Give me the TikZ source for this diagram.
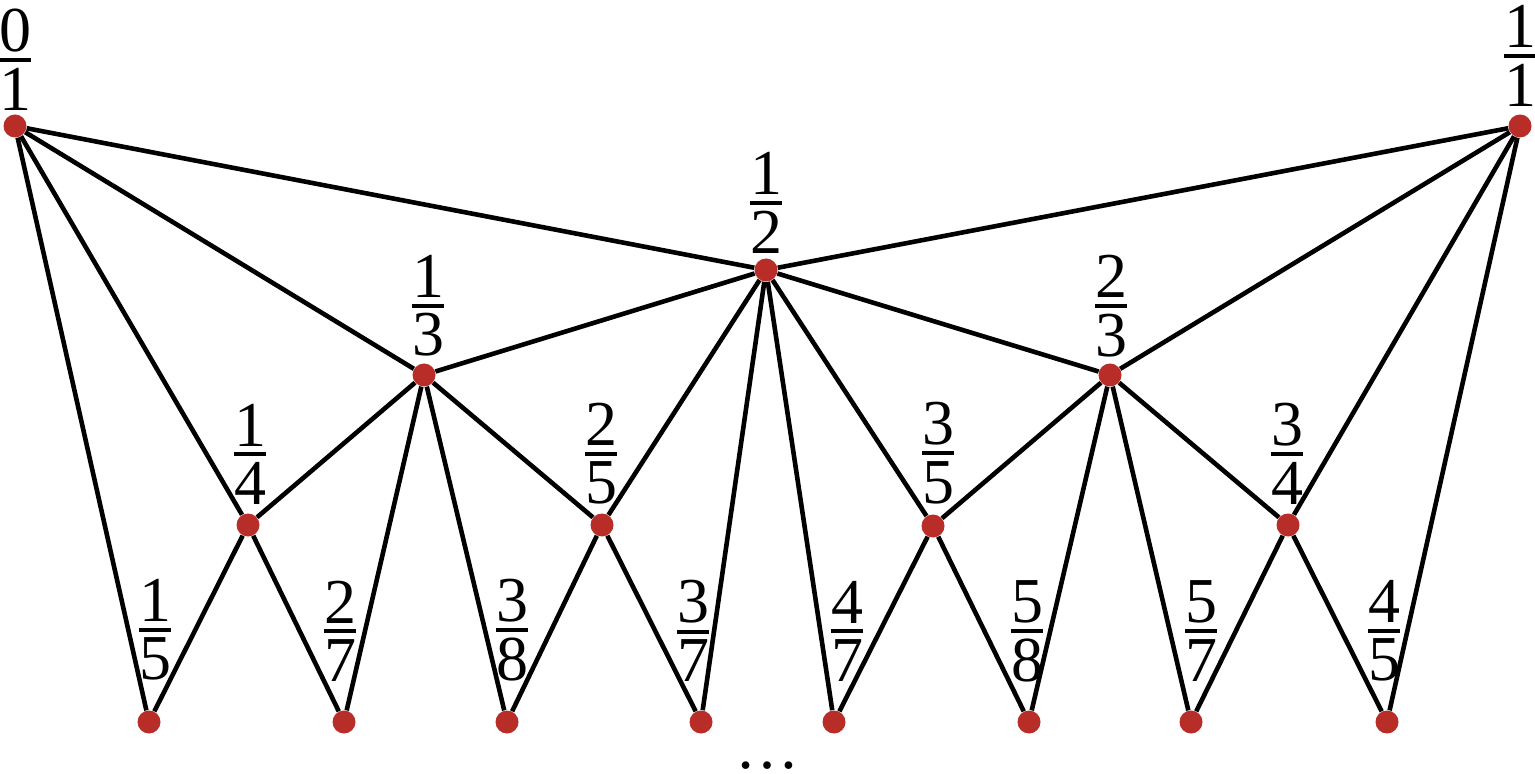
\documentclass[tikz,border=0pt]{standalone}
\usepackage{fontspec}
\setmainfont{Liberation Serif}
\newfontfamily\fracfont{Liberation Serif}
\usepackage[dvipsnames]{xcolor}
\definecolor{dotred}{RGB}{185,45,40}
\newcommand{\fr}[2]{\vbox{\offinterlineskip\halign{\hfil##\hfil\cr#1\cr\noalign{\kern3pt\hrule height2pt\kern3pt}#2\cr}}}

\begin{document}
\begin{tikzpicture}[x=0.5pt,y=-0.5pt,
    pt/.style={circle,fill=dotred,inner sep=0pt,minimum size=11.5pt},
    lab/.style={inner sep=0pt,font=\fracfont\fontsize{32}{38}\selectfont},
    edge/.style={line width=2.3pt}]
    \useasboundingbox (0,0) rectangle (1535,774);
    % the points
    \node[pt] (d01) at (15,126)  {};
    \node[pt] (d11) at (1520,126) {};
    \node[pt] (d12) at (766,270) {};
    \node[pt] (d13) at (424,375) {};
    \node[pt] (d23) at (1110,375) {};
    \node[pt] (d14) at (248,525) {};
    \node[pt] (d25) at (602,525) {};
    \node[pt] (d35) at (933,526) {};
    \node[pt] (d34) at (1288,525) {};
    \node[pt] (d15) at (149,722) {};
    \node[pt] (d27) at (344,722) {};
    \node[pt] (d38) at (507,722) {};
    \node[pt] (d37) at (701,722) {};
    \node[pt] (d47) at (834,722) {};
    \node[pt] (d58) at (1029,722) {};
    \node[pt] (d57) at (1191,722) {};
    \node[pt] (d45) at (1387,722) {};
    % the fractions
    \node[lab] (t01) at (15,60)   {\fr{0}{1}};
    \node[lab] (t11) at (1520,56) {\fr{1}{1}};
    \node[lab] (t12) at (766,203) {\fr{1}{2}};
    \node[lab] (t13) at (428,306) {\fr{1}{3}};
    \node[lab] (t23) at (1111,306) {\fr{2}{3}};
    \node[lab] (t14) at (250,454) {\fr{1}{4}};
    \node[lab] (t25) at (601,454) {\fr{2}{5}};
    \node[lab] (t35) at (938,453) {\fr{3}{5}};
    \node[lab] (t34) at (1287,454) {\fr{3}{4}};
    \node[lab] (t15) at (155,630) {\fr{1}{5}};
    \node[lab] (t27) at (340,631) {\fr{2}{7}};
    \node[lab] (t38) at (512,630) {\fr{3}{8}};
    \node[lab] (t37) at (693,631) {\fr{3}{7}};
    \node[lab] (t47) at (847,631) {\fr{4}{7}};
    \node[lab] (t58) at (1027,631) {\fr{5}{8}};
    \node[lab] (t57) at (1201,631) {\fr{5}{7}};
    \node[lab] (t45) at (1384,631) {\fr{4}{5}};
    \node[lab] (more) at (767,766) {\ldots};
    % the edges
    \draw[edge] (d01) -- (d12);
    \draw[edge] (d01) -- (d13);
    \draw[edge] (d01) -- (d14);
    \draw[edge] (d01) -- (d15);
    \draw[edge] (d11) -- (d12);
    \draw[edge] (d11) -- (d23);
    \draw[edge] (d11) -- (d34);
    \draw[edge] (d11) -- (d45);
    \draw[edge] (d12) -- (d13);
    \draw[edge] (d12) -- (d23);
    \draw[edge] (d12) -- (d25);
    \draw[edge] (d12) -- (d35);
    \draw[edge] (d12) -- (d37);
    \draw[edge] (d12) -- (d47);
    \draw[edge] (d13) -- (d14);
    \draw[edge] (d13) -- (d25);
    \draw[edge] (d13) -- (d27);
    \draw[edge] (d13) -- (d38);
    \draw[edge] (d23) -- (d35);
    \draw[edge] (d23) -- (d34);
    \draw[edge] (d23) -- (d58);
    \draw[edge] (d23) -- (d57);
    \draw[edge] (d14) -- (d15);
    \draw[edge] (d14) -- (d27);
    \draw[edge] (d25) -- (d38);
    \draw[edge] (d25) -- (d37);
    \draw[edge] (d35) -- (d47);
    \draw[edge] (d35) -- (d58);
    \draw[edge] (d34) -- (d57);
    \draw[edge] (d34) -- (d45);
\end{tikzpicture}
\end{document}
